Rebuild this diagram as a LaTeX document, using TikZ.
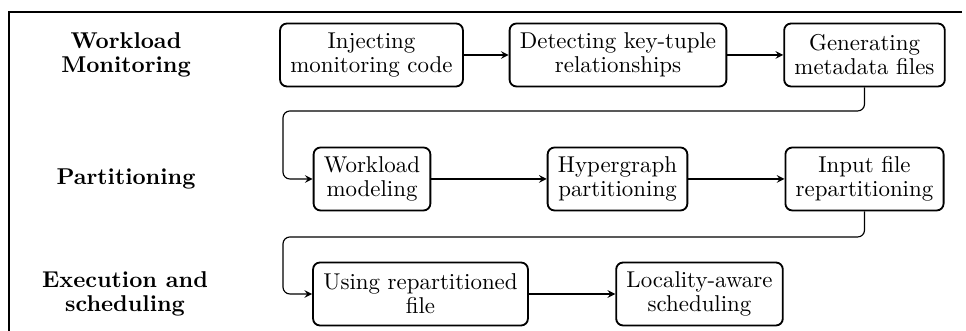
\documentclass[tikz,border=0pt]{standalone}
\tikzset{
  stage/.style = {draw=black, thick, rounded corners=3pt, align=center, inner xsep=4.5pt,
    minimum height=27.5pt, font=\fontsize{10}{10.5}\selectfont},
  phase/.style = {align=center, font=\fontsize{10}{10.5}\selectfont\bfseries},
  flow/.style = {->, >=stealth, line width=0.5pt, rounded corners=3pt}
}

\begin{document}
\begin{tikzpicture}[x=0.01535cm, y=-0.01535cm]
\useasboundingbox (0,0) rectangle (966,331);
\draw[line width=1.2pt] (962,12) -- (9,12) -- (9,331);

% phases
\node [phase] (mon)  at (126,55)  {Workload\\Monitoring};
\node [phase] (part) at (126,179) {Partitioning};
\node [phase] (exec) at (125,294) {Execution and\\scheduling};

% stages
\node [stage] (inject) at (371.5,55) {Injecting\\monitoring code};
\node [stage] (detect) at (618,55)   {Detecting key-tuple\\relationships};
\node [stage] (gen)    at (864.5,55) {Generating\\metadata files};

\node [stage] (model)  at (372,179)   {Workload\\modeling};
\node [stage] (hyper)  at (617.5,179) {Hypergraph\\partitioning};
\node [stage] (input)  at (864.5,179) {Input file\\repartitioning};

\node [stage] (using)  at (420.5,294) {Using repartitioned\\file};
\node [stage] (local)  at (699.5,294) {Locality-aware\\scheduling};

\coordinate (turn1) at (283,111);
\coordinate (turn2) at (283,237);

% connectors
\draw [flow] (inject) -- (detect);
\draw [flow] (detect) -- (gen);
\draw [flow] (gen.south) |- (turn1) |- (model.west);
\draw [flow] (model) -- (hyper);
\draw [flow] (hyper) -- (input);
\draw [flow] (input.south) |- (turn2) |- (using.west);
\draw [flow] (using) -- (local);
\end{tikzpicture}
\end{document}
